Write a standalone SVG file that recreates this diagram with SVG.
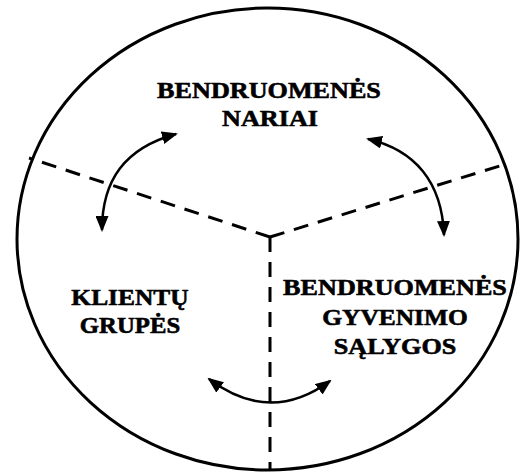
<svg xmlns="http://www.w3.org/2000/svg" width="520" height="475" viewBox="0 0 520 475">
<defs>
<marker id="ah" markerUnits="userSpaceOnUse" markerWidth="16" markerHeight="13" viewBox="0 0 16 13" refX="14" refY="6.5" orient="auto-start-reverse">
<path d="M0,0 L16,6.5 L0,13 z" fill="#000"/>
</marker>
</defs>
<style>
.lbl{font-family:"Liberation Serif","Times New Roman",serif;font-weight:bold;font-size:24px;fill:#000;stroke:#000;stroke-width:0.6;text-anchor:middle}
.dash{stroke:#000;stroke-width:3;fill:none;stroke-dasharray:15 10}
.arr{stroke:#000;stroke-width:2.5;fill:none;marker-start:url(#ah);marker-end:url(#ah)}
</style>
<rect width="520" height="475" fill="#fff"/>
<g id="boundary">
<ellipse cx="267.5" cy="239" rx="250.5" ry="231" fill="none" stroke="#000" stroke-width="3"/>
</g>
<g id="dividers">
<path class="dash" d="M270,237 L29,158"/>
<path class="dash" d="M270,237 L506,164"/>
<path class="dash" d="M270,237 L270,470"/>
</g>
<g id="connectors">
<path class="arr" d="M176,134 C125,148 102,180 102,230"/>
<path class="arr" d="M368,139 C415,150 442,182 444,235"/>
<path class="arr" d="M209,379 Q270,425 330,381"/>
</g>
<g id="node-nariai">
<text class="lbl" transform="translate(269,98) scale(1.09,1)">BENDRUOMENĖS</text>
<text class="lbl" transform="translate(270,126) scale(1.09,1)">NARIAI</text>
</g>
<g id="node-klientu">
<text class="lbl" transform="translate(130,305) scale(1.06,1)">KLIENTŲ</text>
<text class="lbl" transform="translate(130,333) scale(1.03,1)">GRUPĖS</text>
</g>
<g id="node-salygos">
<text class="lbl" transform="translate(395,295) scale(1.09,1)">BENDRUOMENĖS</text>
<text class="lbl" transform="translate(395,325) scale(1.06,1)">GYVENIMO</text>
<text class="lbl" transform="translate(395,354) scale(1.09,1)">SĄLYGOS</text>
</g>
</svg>
